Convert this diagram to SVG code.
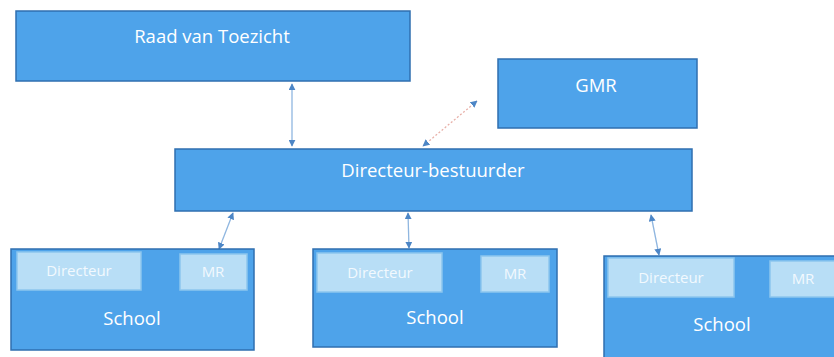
<svg xmlns="http://www.w3.org/2000/svg" width="834" height="357" viewBox="0 0 834 357">
<defs>
<style>
.box{fill:#4ea3ea;stroke:#2f6fb0;stroke-width:1.5}
.inner{fill:#b8def6;stroke:#8cc6ee;stroke-width:1.5}
.t{font-family:"Open Sans","Liberation Sans",sans-serif;font-size:18.5px;font-weight:400;fill:#ffffff;text-anchor:middle}
.ti{font-family:"Open Sans","Liberation Sans",sans-serif;font-size:15px;fill:#f2f9fe;text-anchor:middle}
.c{stroke:#8fb6e0;stroke-width:1.3;fill:none;marker-start:url(#a);marker-end:url(#a)}
.d{stroke:#e8b0a8;stroke-width:1.3;stroke-dasharray:2 2;fill:none;marker-start:url(#a);marker-end:url(#a)}
</style>
<marker id="a" viewBox="0 0 10 10" refX="9" refY="5" markerWidth="7" markerHeight="7" orient="auto-start-reverse" markerUnits="userSpaceOnUse">
<path d="M0,0 L10,5 L0,10 z" fill="#4d86c6"/>
</marker>
</defs>
<rect width="834" height="357" fill="#ffffff"/>
<g id="connectors">
<line class="c" x1="292" y1="84" x2="292" y2="146"/>
<line class="d" x1="477" y1="101" x2="423" y2="146"/>
<line class="c" x1="233" y1="213" x2="219" y2="249"/>
<line class="c" x1="408" y1="213" x2="409" y2="248"/>
<line class="c" x1="651" y1="215" x2="659" y2="255"/>
</g>
<g id="raad">
<rect class="box" x="16" y="11" width="394" height="70"/>
<text class="t" x="212" y="43">Raad van Toezicht</text>
</g>
<g id="gmr">
<rect class="box" x="498" y="59" width="199" height="69"/>
<text class="t" x="596" y="92">GMR</text>
</g>
<g id="directeur">
<rect class="box" x="175" y="149" width="517" height="62"/>
<text class="t" x="433" y="177">Directeur-bestuurder</text>
</g>
<g id="school1">
<rect class="box" x="11" y="249" width="243" height="101"/>
<rect class="inner" x="17" y="252" width="124" height="38"/>
<text class="ti" x="79" y="276">Directeur</text>
<rect class="inner" x="180" y="254" width="67" height="36"/>
<text class="ti" x="213" y="277">MR</text>
<text class="t" x="132" y="325">School</text>
</g>
<g id="school2">
<rect class="box" x="313" y="249" width="244" height="98"/>
<rect class="inner" x="317" y="253" width="125" height="39"/>
<text class="ti" x="380" y="278">Directeur</text>
<rect class="inner" x="481" y="256" width="68" height="36"/>
<text class="ti" x="515" y="279">MR</text>
<text class="t" x="435" y="324">School</text>
</g>
<g id="school3">
<rect class="box" x="604" y="256" width="235" height="105"/>
<rect class="inner" x="608" y="258" width="126" height="39"/>
<text class="ti" x="671" y="283">Directeur</text>
<rect class="inner" x="770" y="261" width="70" height="36"/>
<text class="ti" x="803" y="284">MR</text>
<text class="t" x="722" y="331">School</text>
</g>
</svg>
